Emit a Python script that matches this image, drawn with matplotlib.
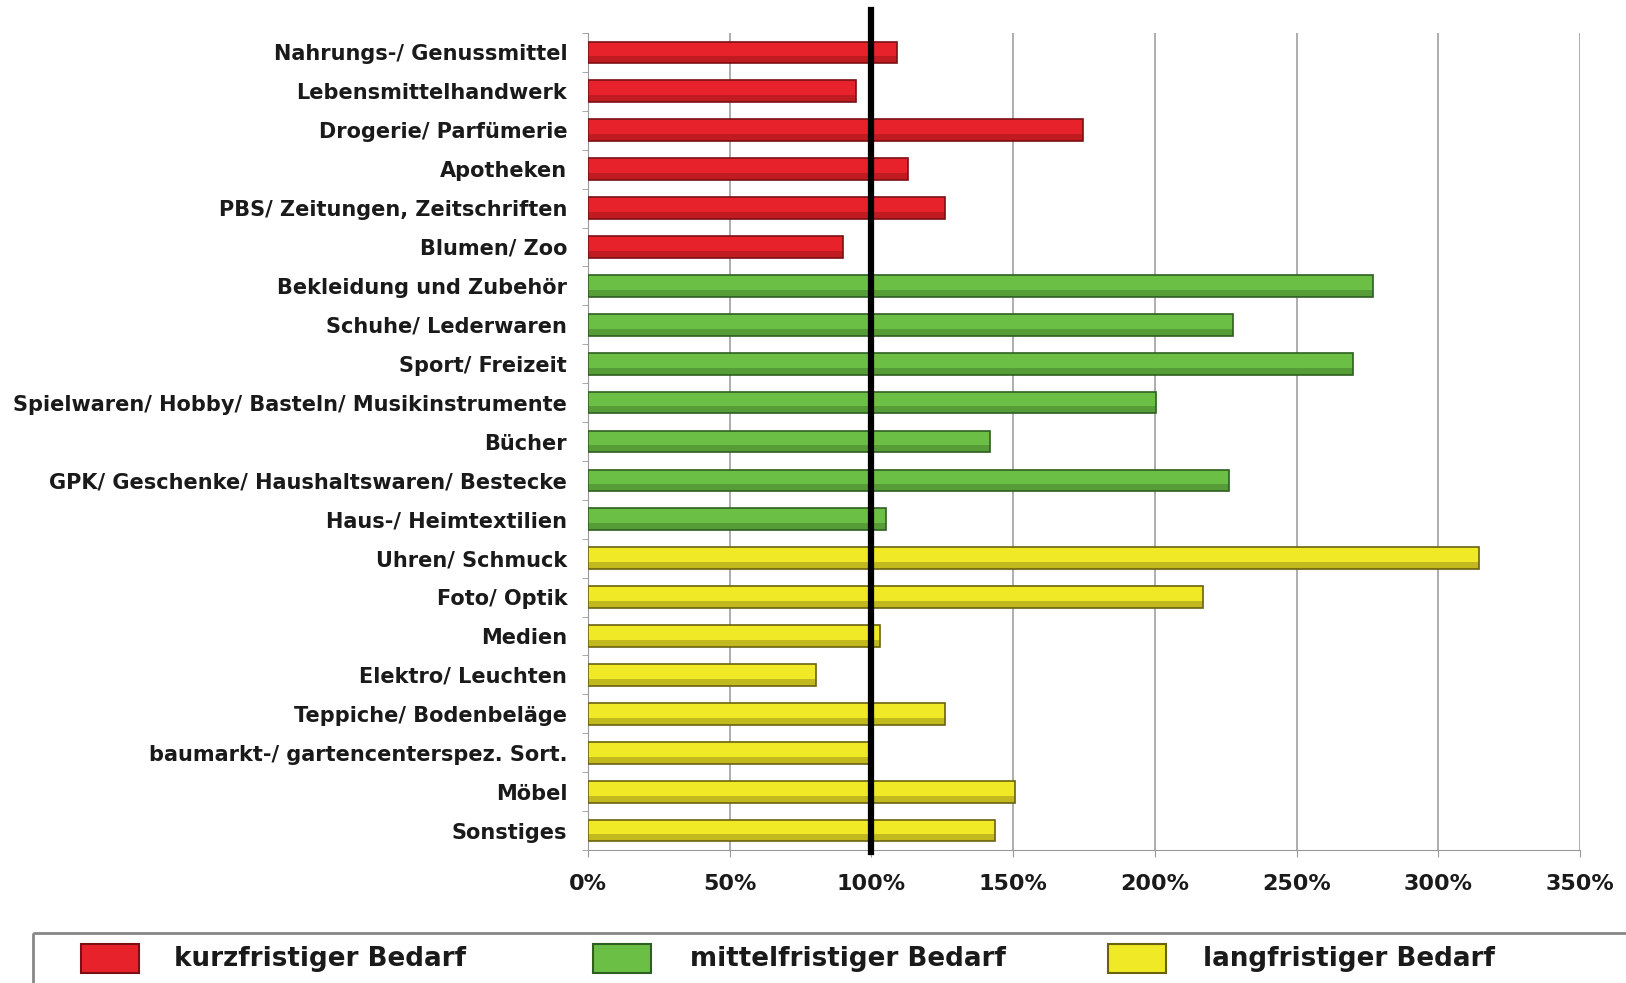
import numpy as np
import matplotlib
matplotlib.use('Agg')
from matplotlib import pyplot as plt
from matplotlib.patches import Rectangle

# Sortimente und Zentralitaet (in %)
kurz = ['Nahrungs-/ Genussmittel', 'Lebensmittelhandwerk', 'Drogerie/ Parfümerie',
        'Apotheken', 'PBS/ Zeitungen, Zeitschriften', 'Blumen/ Zoo']
kurz_werte = [109, 94.5, 174.5, 113, 126, 90]

mittel = ['Bekleidung und Zubehör', 'Schuhe/ Lederwaren', 'Sport/ Freizeit',
          'Spielwaren/ Hobby/ Basteln/ Musikinstrumente', 'Bücher',
          'GPK/ Geschenke/ Haushaltswaren/ Bestecke', 'Haus-/ Heimtextilien']
mittel_werte = [277, 227.5, 270, 200.5, 142, 226, 105]

lang = ['Uhren/ Schmuck', 'Foto/ Optik', 'Medien', 'Elektro/ Leuchten',
        'Teppiche/ Bodenbeläge', 'baumarkt-/ gartencenterspez. Sort.', 'Möbel', 'Sonstiges']
lang_werte = [314.5, 217, 103, 80.5, 126, 99.5, 150.5, 143.5]

gruppen = ['kurzfristiger Bedarf', 'mittelfristiger Bedarf', 'langfristiger Bedarf']
farben = ['#e8222b', '#6cbf45', '#f0e926']
rand = ['#7a1014', '#2f5f20', '#6b6210']

xticks = [0, 50, 100, 150, 200, 250, 300, 350]

plt.rcParams['font.family'] = ['DejaVu Sans']

fig = plt.figure(figsize=(16.26, 9.83), dpi=100)
ax = fig.add_axes([588/1626, 1-850/983, (1580-588)/1626, (850-33)/983])

labels = kurz + mittel + lang
werte = kurz_werte + mittel_werte + lang_werte
gruppe = [0]*len(kurz) + [1]*len(mittel) + [2]*len(lang)
y = np.arange(len(labels))

for i in range(len(labels)):
    g = gruppe[i]
    ax.barh(y[i], werte[i], height=0.56, color=farben[g], edgecolor=rand[g], linewidth=1.2, zorder=3)
    # dunklere Unterkante fuer den Schatteneffekt
    ax.barh(y[i]+0.19, werte[i], height=0.18, color=rand[g], alpha=0.35, linewidth=0, zorder=3)

ax.set_yticks(y)
ax.set_yticklabels(labels, fontsize=15, fontweight='bold', color='#1a1a1a')
ax.set_ylim(len(labels)-0.5, -0.5)
ax.set_xlim(0, 350)
ax.set_xticks(xticks)
ax.set_xticklabels([str(t)+'%' for t in xticks], fontsize=16, fontweight='bold', color='#1a1a1a')

ax.set_yticks(np.arange(len(labels)+1)-0.5, minor=True)
ax.tick_params(axis='y', which='major', length=0, pad=15)
ax.tick_params(axis='y', which='minor', length=4, color='#999999')
ax.tick_params(axis='x', length=5, color='#999999', pad=12)

ax.grid(axis='x', color='#a0a0a0', linewidth=1.2, zorder=0)
for s in ['top', 'right']:
    ax.spines[s].set_visible(False)
ax.spines['left'].set_color('#999999')
ax.spines['bottom'].set_color('#999999')

# 100%-Linie, ragt ueber den Plotbereich hinaus
ax.plot([100, 100], [len(labels)-0.45, -1.08], color='black', linewidth=4.5, zorder=5, clip_on=False)

# Legende als Kasten unten
leg = fig.add_axes([33/1626, 0, 1-33/1626, 1-932/983])
leg.set_xlim(0, 1593)
leg.set_ylim(51, 0)
leg.axis('off')
leg.add_patch(Rectangle((0, 0.5), 1600, 60, fill=False, edgecolor='#888888', linewidth=2, clip_on=False))
for px, tx, f, r, g in zip([48, 560, 1075], [141, 657, 1170], farben, rand, gruppen):
    leg.add_patch(Rectangle((px, 12), 58, 29, facecolor=f, edgecolor=r, linewidth=1.5))
    leg.text(tx, 27, g, fontsize=18.8, fontweight='bold', va='center', ha='left', color='#1a1a1a')

fig.savefig('out.png', dpi=100)
